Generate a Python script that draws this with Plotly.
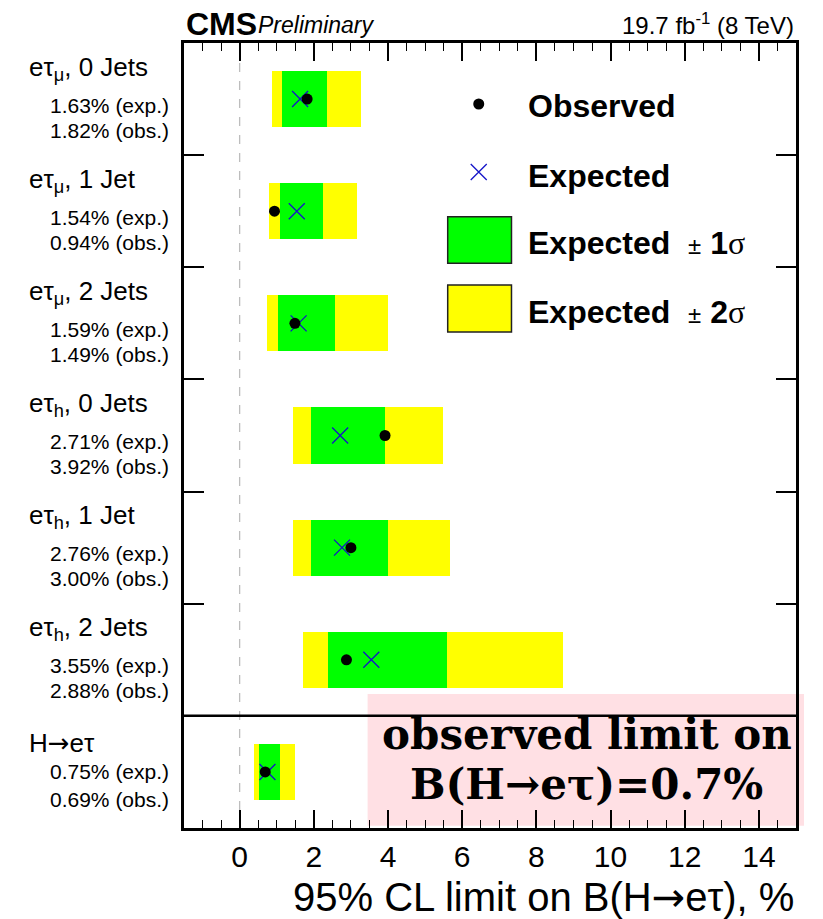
import plotly.graph_objects as go

# ---------------- data ----------------
ARROW = "<span style='font-family:DejaVu Sans'>→</span>"
row_labels = ["eτ<sub>μ</sub>, 0 Jets", "eτ<sub>μ</sub>, 1 Jet", "eτ<sub>μ</sub>, 2 Jets",
              "eτ<sub>h</sub>, 0 Jets", "eτ<sub>h</sub>, 1 Jet", "eτ<sub>h</sub>, 2 Jets",
              "H" + ARROW + "eτ"]
expected = [1.63, 1.54, 1.59, 2.71, 2.76, 3.55, 0.75]
observed = [1.82, 0.94, 1.49, 3.92, 3.00, 2.88, 0.69]
lo_2sig = [0.86, 0.79, 0.73, 1.43, 1.43, 1.72, 0.38]
lo_1sig = [1.15, 1.08, 1.03, 1.92, 1.92, 2.37, 0.52]
hi_1sig = [2.36, 2.25, 2.56, 3.93, 4.00, 5.58, 1.08]
hi_2sig = [3.26, 3.17, 3.99, 5.47, 5.66, 8.72, 1.49]
x_ticks = [0, 2, 4, 6, 8, 10, 12, 14]

rows = list(range(len(row_labels)))
FONT = "Liberation Sans, Arial, Helvetica, sans-serif"
SERIF = "DejaVu Serif, Liberation Serif, serif"
YEL = "rgb(255,255,0)"
GRN = "rgb(0,255,0)"
XBLUE = "rgb(20,20,200)"

fig = go.Figure()

fig.add_trace(go.Bar(
    y=rows, x=[h - l for l, h in zip(lo_2sig, hi_2sig)], base=lo_2sig,
    orientation="h", width=0.5, marker=dict(color=YEL, line=dict(width=0)),
    showlegend=False, hoverinfo="skip"))
fig.add_trace(go.Bar(
    y=rows, x=[h - l for l, h in zip(lo_1sig, hi_1sig)], base=lo_1sig,
    orientation="h", width=0.5, marker=dict(color=GRN, line=dict(width=0)),
    showlegend=False, hoverinfo="skip"))
fig.add_trace(go.Scatter(
    x=expected, y=rows, mode="markers",
    marker=dict(symbol="x-thin", size=16, line=dict(color=XBLUE, width=1.3)),
    showlegend=False, hoverinfo="skip"))
fig.add_trace(go.Scatter(
    x=observed, y=rows, mode="markers",
    marker=dict(symbol="circle", size=11, color="black", line=dict(width=0)),
    showlegend=False, hoverinfo="skip"))

n = len(rows)
shapes = []
# pink highlight box (behind everything)
shapes.append(dict(type="rect", xref="paper", yref="paper", x0=0.300, x1=1.0131,
                   y0=0.003, y1=0.1707, fillcolor="rgb(255,224,228)",
                   line=dict(width=0), layer="below"))
# dashed zero line
shapes.append(dict(type="line", xref="x", yref="paper", x0=0, x1=0, y0=0, y1=1,
                   line=dict(color="#bdbdbd", width=1.3, dash="dash"), layer="below"))
# separator before combined row
shapes.append(dict(type="line", xref="paper", yref="y", x0=0, x1=1, y0=n - 1.5, y1=n - 1.5,
                   line=dict(color="black", width=2.5), layer="above"))

# ---- legend (drawn) ----
shapes.append(dict(type="circle", xref="paper", yref="paper", xsizemode="pixel", ysizemode="pixel",
                   xanchor=0.4816, yanchor=0.9223, x0=-5.5, x1=5.5, y0=-5.5, y1=5.5,
                   fillcolor="black", line=dict(width=0)))
shapes.append(dict(type="path", xref="paper", yref="paper", xsizemode="pixel", ysizemode="pixel",
                   xanchor=0.4816, yanchor=0.8357,
                   path="M -8,-8 L 8,8 M -8,8 L 8,-8", line=dict(color=XBLUE, width=1.3)))
shapes.append(dict(type="rect", xref="paper", yref="paper", x0=0.4309, x1=0.5351,
                   y0=0.7194, y1=0.7787, fillcolor=GRN, line=dict(color="#222", width=1.5)))
shapes.append(dict(type="rect", xref="paper", yref="paper", x0=0.4309, x1=0.5351,
                   y0=0.6318, y1=0.6917, fillcolor=YEL, line=dict(color="#222", width=1.5)))

ann = []
leg_font = dict(family=FONT, size=32, color="black")
ann.append(dict(xref="paper", yref="paper", x=0.5585, y=0.9197, xanchor="left", yanchor="middle",
                text="<b>Observed</b>", showarrow=False, font=leg_font))
ann.append(dict(xref="paper", yref="paper", x=0.5585, y=0.8306, xanchor="left", yanchor="middle",
                text="<b>Expected</b>", showarrow=False, font=leg_font))
sig = "<span style='font-family:Liberation Serif, serif;font-size:32px'>σ</span>"
pm = "<span style='font-size:24px'>±</span>"
ann.append(dict(xref="paper", yref="paper", x=0.5585, y=0.7452, xanchor="left", yanchor="middle",
                text="<b>Expected</b>  " + pm + " <b>1</b>" + sig,
                showarrow=False, font=leg_font))
ann.append(dict(xref="paper", yref="paper", x=0.5585, y=0.6577, xanchor="left", yanchor="middle",
                text="<b>Expected</b>  " + pm + " <b>2</b>" + sig,
                showarrow=False, font=leg_font))

# ---- row labels ----
for i, lab in enumerate(row_labels):
    last = (i == n - 1)
    ann.append(dict(xref="paper", yref="y", x=-0.2559, y=i, xanchor="left", yanchor="middle",
                    yshift=29 if last else 31, text=lab, showarrow=False,
                    font=dict(family=FONT, size=26, color="black")))
    ann.append(dict(xref="paper", yref="y", x=0, y=i, xanchor="right", yanchor="middle",
                    xshift=-13, yshift=0 if last else -6,
                    text=f"{expected[i]:.2f}% (exp.)", showarrow=False,
                    font=dict(family=FONT, size=21, color="black")))
    ann.append(dict(xref="paper", yref="y", x=0, y=i, xanchor="right", yanchor="middle",
                    xshift=-13, yshift=-28 if last else -31,
                    text=f"{observed[i]:.2f}% (obs.)", showarrow=False,
                    font=dict(family=FONT, size=21, color="black")))

# ---- header ----
ann.append(dict(xref="paper", yref="paper", x=0.0, y=1.0245, xanchor="left", yanchor="middle",
                text="<b>CMS</b>", showarrow=False, font=dict(family=FONT, size=32, color="black")))
ann.append(dict(xref="paper", yref="paper", x=0.118, y=1.0235, xanchor="left", yanchor="middle",
                text="<i>Preliminary</i>", showarrow=False, font=dict(family=FONT, size=23, color="black")))
ann.append(dict(xref="paper", yref="paper", x=1.0, y=1.0245, xanchor="right", yanchor="middle",
                text="19.7 fb<sup>-1</sup> (8 TeV)", showarrow=False,
                font=dict(family=FONT, size=24, color="black")))

# ---- x-axis title ----
ann.append(dict(xref="paper", yref="paper", x=1.0, y=-0.0873, xanchor="right", yanchor="middle",
                text="95% CL limit on B(H" + ARROW + "eτ), %", showarrow=False,
                font=dict(family=FONT, size=40, color="black")))

# ---- highlight text ----
ann.append(dict(xref="paper", yref="paper", x=0.658, y=0.1185, xanchor="center", yanchor="middle",
                text="<b>observed limit on</b>", showarrow=False,
                font=dict(family=SERIF, size=42, color="black")))
ann.append(dict(xref="paper", yref="paper", x=0.658, y=0.0548, xanchor="center", yanchor="middle",
                text="<b>B(H→eτ)=0.7%</b>", showarrow=False,
                font=dict(family=SERIF, size=42, color="black")))

fig.update_layout(
    width=823, height=919,
    margin=dict(l=184, r=27, t=43, b=91, pad=0),
    paper_bgcolor="white", plot_bgcolor="rgba(0,0,0,0)",
    barmode="overlay", bargap=0,
    shapes=shapes, annotations=ann, showlegend=False,
    font=dict(family=FONT, color="black"),
)
fig.update_xaxes(
    range=[-1.5, 15], tickvals=x_ticks, ticktext=[str(t) for t in x_ticks],
    ticks="inside", ticklen=18, tickwidth=1.5, tickcolor="black",
    minor=dict(dtick=0.5, tick0=0, ticks="inside", ticklen=8, tickwidth=1.2, tickcolor="black"),
    showline=True, linewidth=3, linecolor="black", mirror="ticks",
    showgrid=False, zeroline=False,
    tickfont=dict(family=FONT, size=30, color="black"),
)
fig.update_yaxes(
    range=[n - 0.5, -0.5], tickvals=[i + 0.5 for i in range(n - 2)],
    showticklabels=False, ticks="inside", ticklen=20, tickwidth=1.5, tickcolor="black",
    showline=True, linewidth=3, linecolor="black", mirror="ticks",
    showgrid=False, zeroline=False,
)

fig.write_html("out.html")
